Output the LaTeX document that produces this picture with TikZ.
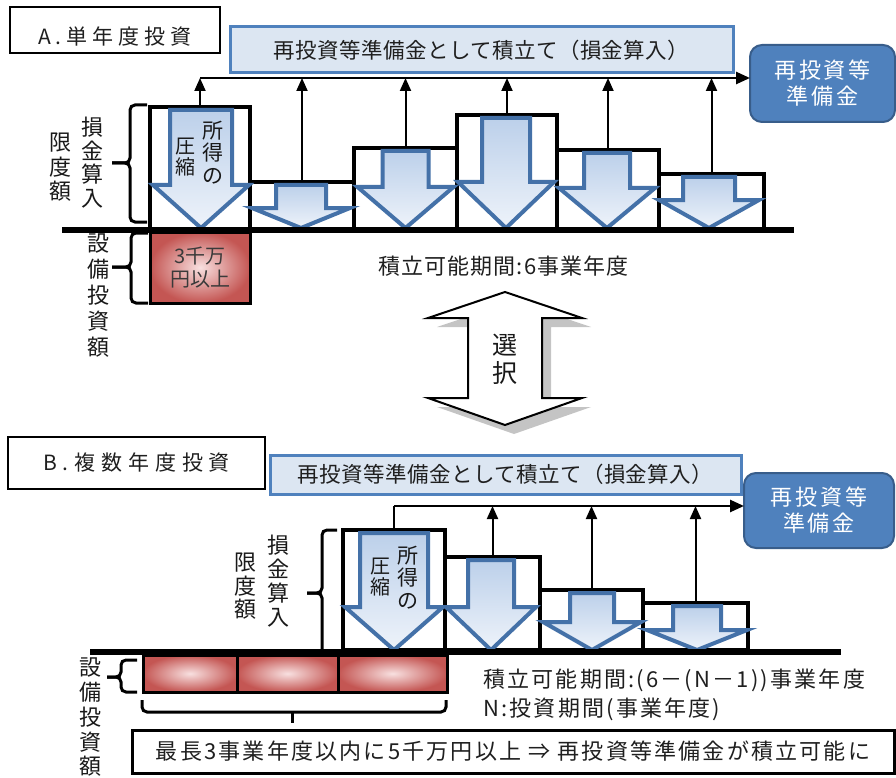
\documentclass[tikz,border=0pt]{standalone}
\usepackage{fontspec}
\setmainfont{Noto Sans CJK JP}
\usetikzlibrary{arrows.meta}
\definecolor{bannerfill}{HTML}{DCE6F2}
\definecolor{bannerline}{HTML}{4F81BD}
\definecolor{boxfill}{HTML}{4F81BD}
\definecolor{boxline}{HTML}{385D8A}
\definecolor{arrline}{HTML}{4471A8}
\definecolor{arrtop}{HTML}{BCD0EA}
\definecolor{arrbot}{HTML}{EEF3FA}
\definecolor{redout}{HTML}{C45653}
\definecolor{redin}{HTML}{F8E0E0}
\definecolor{txtgrey}{HTML}{3A3A3A}
\definecolor{shadowgrey}{HTML}{C4C4C4}
\newcommand\lsf[2]{\fontsize{#1pt}{#1pt}\selectfont\addfontfeature{LetterSpace=#2}}
\newcommand\lsfl[3]{\fontsize{#1pt}{#3pt}\selectfont\addfontfeature{LetterSpace=#2}}
\newcommand\vf[2]{\fontsize{#1pt}{#2pt}\selectfont}
\newcommand\blockdown[6]{%
  \draw[blockarrow] ({#1-#2},#4) -- ({#1+#2},#4) -- ({#1+#2},#5) -- ({#1+#3},#5) -- (#1,#6) -- ({#1-#3},#5) -- ({#1-#2},#5) -- cycle;}
\begin{document}
\begin{tikzpicture}[x=1pt,y=-1pt,
  labelbox/.style={draw=black, line width=2.5pt, fill=white, inner sep=0pt, outer sep=0pt},
  banner/.style={draw=bannerline, line width=3pt, fill=bannerfill, inner sep=0pt, outer sep=0pt, text=black!88},
  resbox/.style={draw=boxline, line width=2pt, fill=boxfill, rounded corners=12pt, inner sep=0pt, outer sep=0pt, text=white, align=center},
  barbox/.style={draw=black, line width=3.5pt, fill=white, inner sep=0pt, outer sep=0pt, anchor=south west},
  redbox/.style={draw=black, line width=3pt, inner color=redin, outer color=redout, inner sep=0pt, outer sep=0pt},
  blockarrow/.style={draw=arrline, line width=4pt, line join=miter, top color=arrtop, bottom color=arrbot},
  upconn/.style={line width=2pt, -{Triangle[width=11pt,length=13pt]}},
  collect/.style={line width=2.5pt, -{Triangle[width=12pt,length=14pt]}},
  bracket/.style={line width=3pt, rounded corners=5pt},
  vtext/.style={align=center, inner sep=0pt, text=black!90},
  plaintext/.style={inner sep=0pt, text=black!88}
]
\useasboundingbox (0,0) rectangle (896,778);

% ================= Section A =================
\node[labelbox, minimum width=210pt, minimum height=46pt] (labA) at (115,30) {};
\node[plaintext, font=\lsf{21}{24}] (labAt) at ([xshift=0pt,yshift=-7pt]labA.center) {A.単年度投資};
\node[banner, minimum width=503pt, minimum height=46pt, font=\lsf{21.5}{2}] (banA) at (481.5,50) {再投資等準備金として積立て（損金算入）};
\node[resbox, minimum width=145pt, minimum height=77pt, font=\lsfl{22}{13}{26}] (resA) at (822.5,83.5) {再投資等\\準備金};

\node[barbox, minimum width=100pt, minimum height=123pt] (a1) at (150,230) {};
\node[barbox, minimum width=104pt, minimum height=48pt] (a2) at (250,230) {};
\node[barbox, minimum width=103pt, minimum height=82pt] (a3) at (354,230) {};
\node[barbox, minimum width=100pt, minimum height=115pt] (a4) at (457,230) {};
\node[barbox, minimum width=102pt, minimum height=80pt] (a5) at (557,230) {};
\node[barbox, minimum width=105pt, minimum height=56pt] (a6) at (659,230) {};

\blockdown{201}{31}{48}{110}{185}{228}
\blockdown{301}{25}{49}{185}{208}{228}
\blockdown{405.5}{23}{48}{151}{187}{228}
\blockdown{506}{24}{48}{118}{182}{228}
\blockdown{607}{23}{48}{153}{188}{228}
\blockdown{709}{26}{50}{177}{200}{228}

\node[redbox, minimum width=100pt, minimum height=71pt, text=txtgrey, align=center, font=\vf{20}{23}] (invA) at (200,267.5) {3千万\\円以上};

\draw[line width=6.5pt] (62,230) -- (794,230);

\path (a1.north) ++(0,-29) coordinate (lA);
\draw[upconn] (a1.north) -- (lA);
\foreach \b in {a2,a3,a4,a5,a6} \draw[upconn] (\b.north) -- (\b.north |- lA);
\draw[collect] (lA) -- (lA -| resA.west);

\draw[bracket] (147,105) -- (130,105) -- (130,163) -- (112,163);
\draw[bracket] (112,163) -- (130,163) -- (130,222) -- (147,222);
\draw[bracket] (148,233) -- (131,233) -- (131,267) -- (112,267);
\draw[bracket] (112,267) -- (131,267) -- (131,303) -- (148,303);

\node[vtext, font=\vf{22}{23.7}] (sonA) at (92,162.5) {損\\金\\算\\入};
\node[vtext, font=\vf{22}{24.5}] (genA) at (60,167.5) {限\\度\\額};
\node[vtext, font=\vf{22}{26}] (setA) at (98,296) {設\\備\\投\\資\\額};
\node[vtext, font=\vf{21}{22.5}] (shoA) at (213,152.5) {所\\得\\の};
\node[vtext, font=\vf{20}{21}] (atsA) at (185,157) {圧\\縮};

\node[plaintext, anchor=west, font=\lsf{22}{5}] (perA) at (378,266) {積立可能期間:6事業年度};

% ================= choice arrow =================
\fill[shadowgrey] (514,301) -- (591,327) -- (551,327) -- (551,407) -- (591,407) -- (514,434) -- (437,407) -- (477,407) -- (477,327) -- (437,327) -- cycle;
\draw[line width=2pt, fill=white, line join=miter] (505,292) -- (582,318) -- (542,318) -- (542,398) -- (582,398) -- (505,425) -- (428,398) -- (468,398) -- (468,318) -- (428,318) -- cycle;
\node[vtext, font=\vf{25}{28}] (sentaku) at (505,359) {選\\択};

% ================= Section B =================
\node[labelbox, minimum width=257pt, minimum height=52pt] (labB) at (136.5,463) {};
\node[plaintext, font=\lsf{21}{28}] (labBt) at ([xshift=0pt]labB.center) {B.複数年度投資};
\node[banner, minimum width=471pt, minimum height=39pt, font=\lsf{21.5}{2}] (banB) at (505.5,474.5) {再投資等準備金として積立て（損金算入）};
\node[resbox, minimum width=150pt, minimum height=75pt, font=\lsfl{22}{13}{26}] (resB) at (819,510.5) {再投資等\\準備金};

\node[barbox, minimum width=102pt, minimum height=120pt] (b1) at (343,650) {};
\node[barbox, minimum width=95pt, minimum height=93pt] (b2) at (445,650) {};
\node[barbox, minimum width=103pt, minimum height=60pt] (b3) at (540,650) {};
\node[barbox, minimum width=105pt, minimum height=47pt] (b4) at (643,650) {};

\blockdown{394}{34}{49}{533}{607}{650}
\blockdown{491}{23}{45}{560}{607}{650}
\blockdown{592}{22}{49}{593}{622}{650}
\blockdown{697}{24}{50}{606}{630}{650}

\node[redbox, minimum width=94pt, minimum height=37pt] (c1) at (190,673.5) {};
\node[redbox, minimum width=101pt, minimum height=37pt] (c2) at (287.5,673.5) {};
\node[redbox, minimum width=109pt, minimum height=37pt] (c3) at (392.5,673.5) {};

\draw[line width=5.5pt] (90,652) -- (841,652);

\path (b1.north) ++(0,-24) coordinate (lB);
\draw[line width=2.5pt] (b1.north) -- (lB);
\foreach \b in {b2,b3,b4} \draw[upconn] (\b.north) -- (\b.north |- lB);
\draw[collect] (lB) -- (lB -| resB.west);

\draw[bracket] (337,530) -- (322,530) -- (322,593) -- (307,593);
\draw[bracket] (307,593) -- (322,593) -- (322,650);
\draw[bracket] (137,660) -- (121,660) -- (121,677) -- (107,677);
\draw[bracket] (107,677) -- (121,677) -- (121,692) -- (137,692);
\draw[bracket] (142,700) -- (142,712) -- (446,712) -- (446,700);
\draw[bracket] (292,712) -- (292,723);

\node[vtext, font=\vf{22}{24}] (sonB) at (278,581) {損\\金\\算\\入};
\node[vtext, font=\vf{22}{23.5}] (genB) at (245,586.5) {限\\度\\額};
\node[vtext, font=\vf{22}{24.75}] (setB) at (90,717.5) {設\\備\\投\\資\\額};
\node[vtext, font=\vf{21}{22.5}] (shoB) at (408,577.5) {所\\得\\の};
\node[vtext, font=\vf{20}{21}] (atsB) at (380,577.5) {圧\\縮};

\node[plaintext, anchor=west, font=\lsf{22}{10}] (perB) at (483,680) {積立可能期間:(6－(N－1))事業年度};
\node[plaintext, anchor=west, font=\lsf{22}{10}] (nB) at (483,709) {N:投資期間(事業年度)};

\node[draw=black, line width=3pt, fill=white, minimum width=762pt, minimum height=43pt, inner sep=0pt, outer sep=0pt, text=black!88, font=\lsf{22}{10}] (note) at (513,751.5) {最長3事業年度以内に5千万円以上 ⇒ 再投資等準備金が積立可能に};
\end{tikzpicture}
\end{document}
